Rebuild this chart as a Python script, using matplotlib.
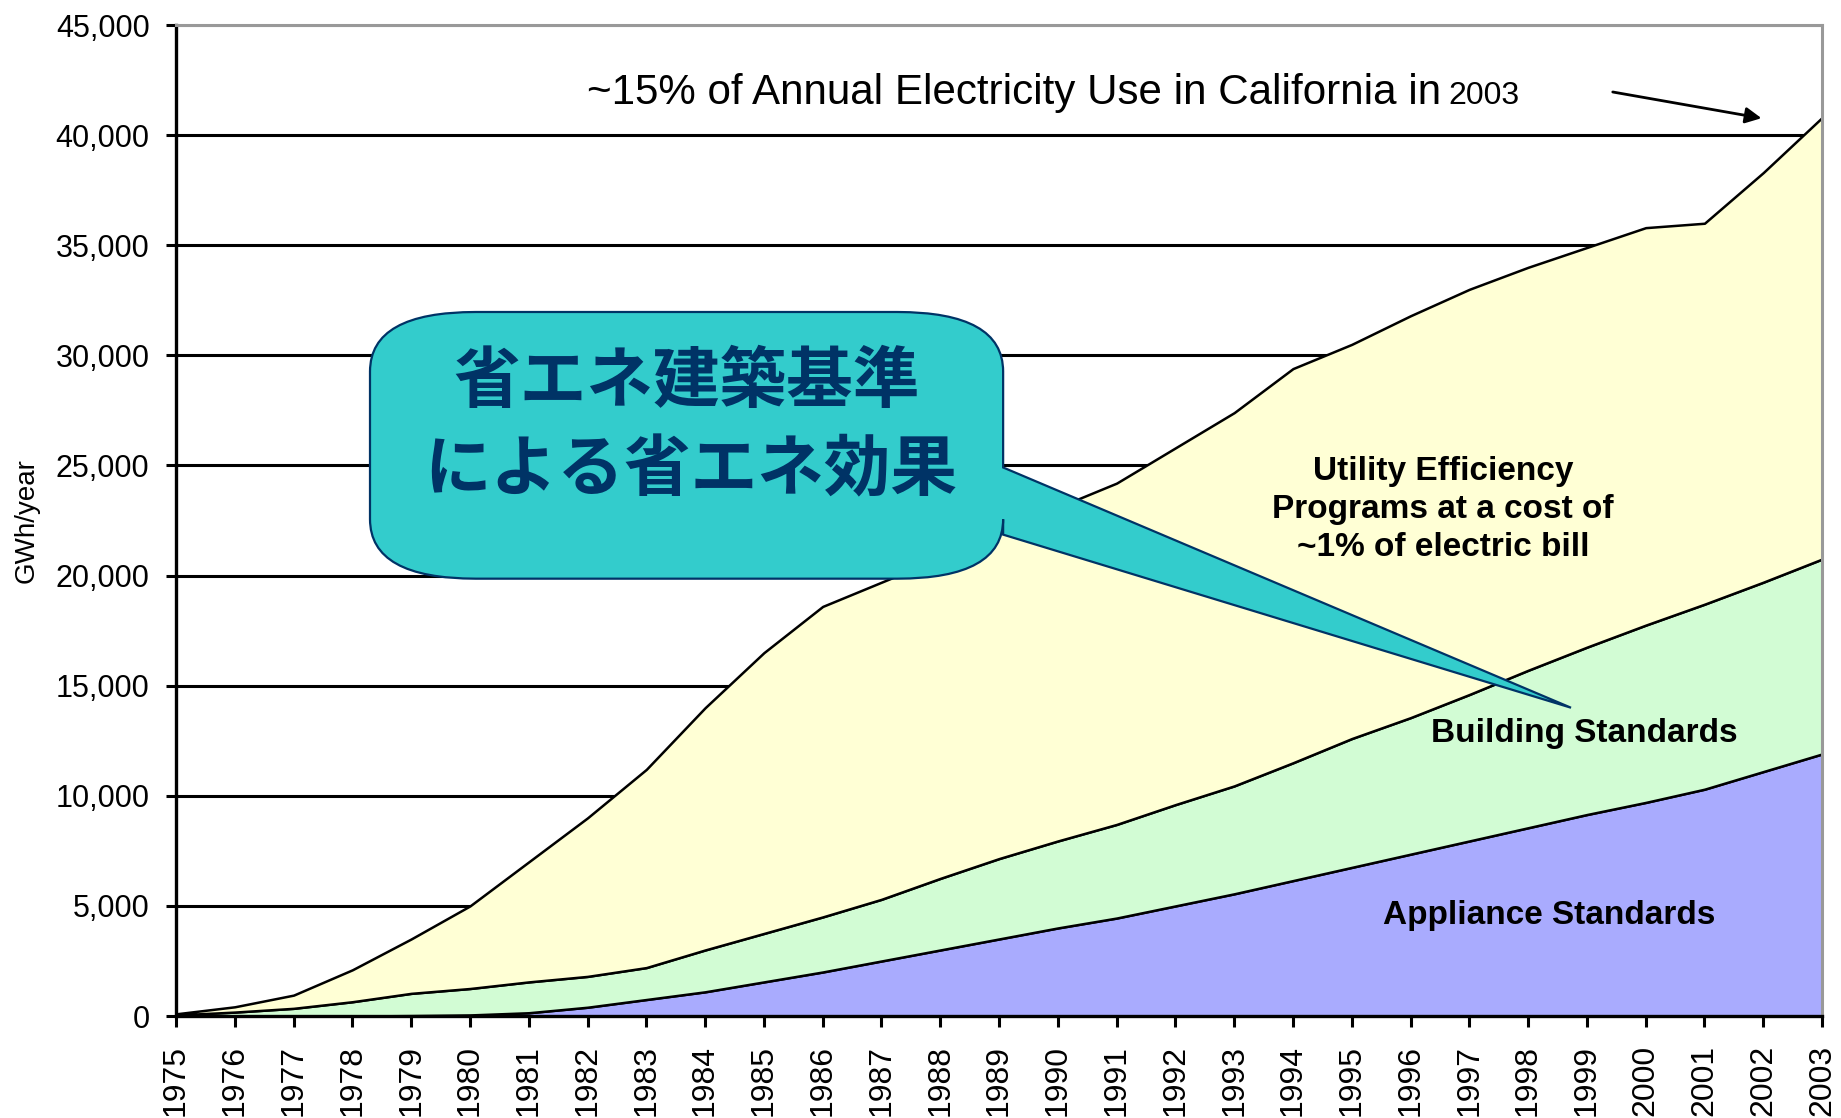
import matplotlib
matplotlib.use("Agg")
import matplotlib.pyplot as plt
from matplotlib.path import Path
from matplotlib.patches import PathPatch
from matplotlib.ticker import FuncFormatter

plt.rcParams["font.family"] = ["Liberation Sans", "DejaVu Sans"]

# savings in GWh/year (top edge of each stacked band)
years = list(range(1975, 2004))
appliance_top = [0, 0, 0, 0, 20, 50, 150, 400, 750, 1100, 1550, 2000, 2500, 3000,
                 3500, 4000, 4450, 5000, 5550, 6150, 6750, 7350, 7950, 8550, 9150,
                 9700, 10300, 11100, 11900]
building_top = [50, 180, 350, 650, 1030, 1250, 1550, 1800, 2200, 3000, 3750, 4500,
                5300, 6250, 7150, 7950, 8700, 9600, 10450, 11500, 12600, 13550,
                14600, 15700, 16750, 17750, 18700, 19700, 20750]
utility_top = [100, 420, 950, 2100, 3500, 5000, 7000, 9000, 11200, 14000, 16500,
               18600, 19700, 20800, 21950, 23100, 24200, 25800, 27400, 29400, 30500,
               31800, 33000, 34000, 34900, 35800, 36000, 38300, 40800]

band_labels = ["Appliance Standards", "Building Standards",
               "Utility Efficiency\nPrograms at a cost of\n~1% of electric bill"]
band_colors = ["#A9ABFE", "#D2FCD4", "#FFFFD5"]
y_ticks = list(range(0, 45001, 5000))

fig = plt.figure(figsize=(18.41, 11.18), dpi=100)
ax = fig.add_axes([0.0956, 0.0912, 0.8941, 0.8864])

# horizontal grid, top one grey
for t in y_ticks[1:]:
    ax.axhline(t, color="#999999" if t == y_ticks[-1] else "black", lw=2.2, zorder=0.5)

lower = [0] * len(years)
for top, col in zip([appliance_top, building_top, utility_top], band_colors):
    ax.fill_between(years, lower, top, facecolor=col, edgecolor="black",
                    linewidth=1.8, zorder=1, clip_on=False)
    lower = top

ax.set_xlim(1975, 2003)
ax.set_ylim(0, 45000)
ax.set_xticks(years)
ax.set_xticklabels([str(y) for y in years], rotation=90)
ax.set_yticks(y_ticks)
ax.yaxis.set_major_formatter(FuncFormatter(lambda v, p: f"{int(v):,}"))
ax.tick_params(axis="y", direction="out", length=7, width=2.2, pad=12, labelsize=22)
ax.tick_params(axis="x", direction="out", length=8, width=2.2, pad=13, labelsize=23)

for side in ["left", "bottom"]:
    ax.spines[side].set_linewidth(2.4)
    ax.spines[side].set_color("black")
for side in ["top", "right"]:
    ax.spines[side].set_linewidth(2.2)
    ax.spines[side].set_color("#999999")

ax.set_ylabel("GWh/year", fontsize=20)
ax.yaxis.set_label_coords(-0.0826, 0.5)

# band labels
ax.text(1998.36, 4550, band_labels[0], fontsize=24, fontweight="bold",
        ha="center", va="center", zorder=5)
ax.text(1998.95, 12850, band_labels[1], fontsize=24, fontweight="bold",
        ha="center", va="center", zorder=5)
ax.text(1996.55, 23000, band_labels[2], fontsize=24, fontweight="bold",
        ha="center", va="center", linespacing=1.3, zorder=5)

# headline with arrow
ax.text(1981.99, 41400, "~15% of Annual Electricity Use in California in",
        fontsize=30.3, ha="left", va="baseline", zorder=5)
ax.text(1996.64, 41400, "2003", fontsize=23, ha="left", va="baseline", zorder=5)
ax.annotate("", xy=(2001.97, 40770), xytext=(1999.44, 41960),
            arrowprops=dict(arrowstyle="-|>", color="black", lw=2.0,
                            mutation_scale=24, shrinkA=0, shrinkB=0),
            zorder=5, annotation_clip=False)

# speech-bubble callout pointing at the building standards band
x0, x1, y0, y1 = 1978.30, 1989.07, 19860, 31970
rx, ry = 1.8, 2700
tail_hi, tail_lo, tip = 24910, 21860, (1998.73, 14000)
verts = [(x0 + rx, y1), (x1 - rx, y1), (x1, y1), (x1, y1 - ry),
         (x1, tail_hi), tip, (x1, tail_lo), (x1, y0 + ry),
         (x1, y0), (x1 - rx, y0), (x0 + rx, y0),
         (x0, y0), (x0, y0 + ry), (x0, y1 - ry),
         (x0, y1), (x0 + rx, y1), (x0 + rx, y1)]
codes = [Path.MOVETO, Path.LINETO, Path.CURVE3, Path.CURVE3,
         Path.LINETO, Path.LINETO, Path.LINETO, Path.LINETO,
         Path.CURVE3, Path.CURVE3, Path.LINETO,
         Path.CURVE3, Path.CURVE3, Path.LINETO,
         Path.CURVE3, Path.CURVE3, Path.CLOSEPOLY]
bubble = PathPatch(Path(verts, codes), facecolor="#33CCCC", edgecolor="#003366",
                   lw=1.6, zorder=10, clip_on=False)
ax.add_patch(bubble)
cjk = ["Noto Sans CJK JP", "DejaVu Sans"]
ax.text(1983.69, 28750, "省エネ建築基準", family=cjk, fontsize=48, fontweight="bold",
        color="#003366", ha="center", va="center", zorder=11)
ax.text(1983.75, 24750, "による省エネ効果", family=cjk, fontsize=48, fontweight="bold",
        color="#003366", ha="center", va="center", zorder=11)

fig.savefig("out.png", dpi=100)
